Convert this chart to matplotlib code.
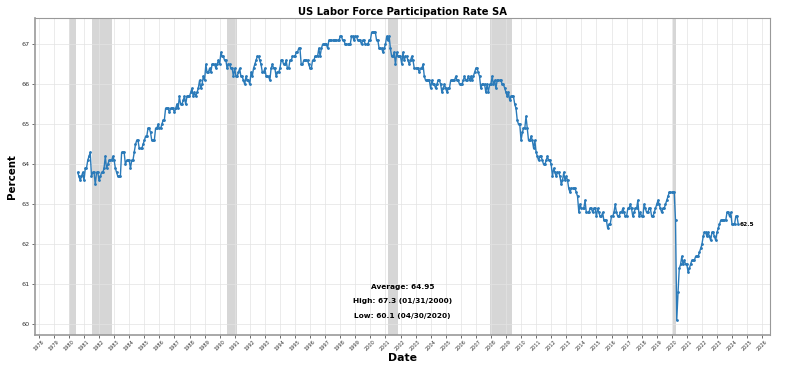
import pandas as pd
import matplotlib
matplotlib.use('Agg')
from matplotlib import pyplot as plt
import matplotlib.dates as mdates

# monthly participation rate (%), month-end dates starting Jul 1980
first_month = '1980-07-31'

lfpr_1980s = [63.8, 63.7, 63.6, 63.7, 63.8, 63.6,
              63.9, 63.9, 64.1, 64.2, 64.3, 63.7, 63.8, 63.8, 63.5, 63.8, 63.8, 63.6,
              63.7, 63.8, 63.8, 63.9, 64.2, 63.9, 64.0, 64.1, 64.1, 64.1, 64.2, 64.1,
              63.9, 63.8, 63.7, 63.7, 63.7, 64.3, 64.3, 64.3, 64.0, 64.1, 64.1, 64.1,
              63.9, 64.1, 64.1, 64.3, 64.5, 64.6, 64.6, 64.4, 64.4, 64.4, 64.5, 64.6,
              64.7, 64.7, 64.9, 64.9, 64.8, 64.6, 64.6, 64.6, 64.9, 64.9, 65.0, 64.9,
              64.9, 65.0, 65.1, 65.1, 65.4, 65.4, 65.4, 65.3, 65.4, 65.4, 65.4, 65.3,
              65.4, 65.5, 65.4, 65.7, 65.5, 65.5, 65.6, 65.7, 65.5, 65.7, 65.7, 65.7,
              65.8, 65.9, 65.7, 65.8, 65.7, 65.8, 65.9, 66.1, 65.9, 66.0, 66.2, 66.1,
              66.5, 66.3, 66.3, 66.4, 66.3, 66.5, 66.5, 66.5, 66.4, 66.5, 66.6, 66.5]

lfpr_1990s = [66.8, 66.7, 66.7, 66.6, 66.6, 66.4, 66.5, 66.5, 66.4, 66.4, 66.2, 66.4,
              66.2, 66.2, 66.3, 66.4, 66.2, 66.2, 66.1, 66.0, 66.2, 66.1, 66.1, 66.0,
              66.3, 66.2, 66.4, 66.5, 66.6, 66.7, 66.7, 66.6, 66.5, 66.3, 66.3, 66.4,
              66.2, 66.2, 66.2, 66.1, 66.4, 66.5, 66.4, 66.4, 66.2, 66.3, 66.3, 66.4,
              66.6, 66.6, 66.5, 66.5, 66.6, 66.4, 66.4, 66.6, 66.6, 66.7, 66.7, 66.7,
              66.8, 66.8, 66.9, 66.9, 66.5, 66.5, 66.6, 66.6, 66.6, 66.6, 66.5, 66.4,
              66.4, 66.6, 66.6, 66.7, 66.7, 66.7, 66.9, 66.7, 66.9, 67.0, 67.0, 67.0,
              67.0, 66.9, 67.1, 67.1, 67.1, 67.1, 67.1, 67.1, 67.1, 67.1, 67.1, 67.2,
              67.2, 67.1, 67.1, 67.0, 67.0, 67.0, 67.0, 67.0, 67.2, 67.2, 67.1, 67.2,
              67.2, 67.1, 67.1, 67.1, 67.0, 67.1, 67.1, 67.0, 67.0, 67.0, 67.1, 67.1]

lfpr_2000s = [67.3, 67.3, 67.3, 67.3, 67.1, 67.1, 66.9, 66.9, 66.9, 66.8, 66.9, 67.0,
              67.2, 67.1, 67.2, 66.9, 66.7, 66.7, 66.8, 66.5, 66.8, 66.7, 66.7, 66.7,
              66.5, 66.8, 66.6, 66.7, 66.7, 66.6, 66.5, 66.6, 66.7, 66.6, 66.4, 66.4,
              66.4, 66.4, 66.3, 66.4, 66.4, 66.5, 66.2, 66.1, 66.1, 66.1, 66.1, 65.9,
              66.1, 66.0, 66.0, 65.9, 66.0, 66.1, 66.1, 66.0, 65.8, 65.9, 66.0, 65.9,
              65.8, 65.9, 65.9, 66.1, 66.1, 66.1, 66.1, 66.2, 66.1, 66.1, 66.0, 66.0,
              66.0, 66.1, 66.2, 66.1, 66.1, 66.2, 66.1, 66.2, 66.1, 66.2, 66.3, 66.4,
              66.4, 66.3, 66.2, 65.9, 66.0, 66.0, 66.0, 65.8, 66.0, 65.8, 66.0, 66.0,
              66.2, 66.0, 66.1, 65.9, 66.1, 66.1, 66.1, 66.1, 66.0, 66.0, 65.9, 65.8,
              65.7, 65.8, 65.6, 65.7, 65.7, 65.7, 65.5, 65.4, 65.1, 65.0, 65.0, 64.6]

lfpr_2010s = [64.8, 64.9, 64.9, 65.2, 64.9, 64.6, 64.6, 64.7, 64.6, 64.4, 64.6, 64.3,
              64.2, 64.1, 64.2, 64.2, 64.1, 64.0, 64.0, 64.1, 64.2, 64.1, 64.1, 64.0,
              63.7, 63.9, 63.8, 63.7, 63.8, 63.8, 63.7, 63.5, 63.6, 63.8, 63.6, 63.7,
              63.6, 63.4, 63.3, 63.4, 63.4, 63.4, 63.4, 63.3, 63.2, 62.8, 63.0, 62.9,
              62.9, 62.9, 63.1, 62.8, 62.8, 62.8, 62.9, 62.9, 62.8, 62.9, 62.9, 62.7,
              62.9, 62.8, 62.7, 62.7, 62.8, 62.6, 62.6, 62.6, 62.4, 62.5, 62.5, 62.7,
              62.7, 62.8, 63.0, 62.8, 62.7, 62.7, 62.8, 62.8, 62.9, 62.8, 62.7, 62.7,
              62.9, 62.9, 63.0, 62.9, 62.7, 62.8, 62.9, 62.9, 63.1, 62.7, 62.8, 62.7,
              62.7, 63.0, 62.9, 62.8, 62.8, 62.9, 62.9, 62.7, 62.7, 62.8, 62.9, 63.0,
              63.1, 63.0, 62.9, 62.8, 62.9, 62.9, 63.0, 63.1, 63.2, 63.3, 63.3, 63.3]

lfpr_2020s = [63.3, 63.3, 62.6, 60.1, 60.8, 61.4, 61.5, 61.7, 61.5, 61.6, 61.5, 61.5,
              61.3, 61.4, 61.5, 61.6, 61.6, 61.6, 61.7, 61.7, 61.7, 61.8, 61.9, 62.0,
              62.2, 62.3, 62.3, 62.2, 62.3, 62.2, 62.1, 62.3, 62.3, 62.2, 62.1, 62.3,
              62.4, 62.5, 62.6, 62.6, 62.6, 62.6, 62.6, 62.8, 62.8, 62.7, 62.8, 62.5,
              62.5, 62.5, 62.7, 62.7, 62.5]

average_rate = 64.95

recession_starts = ['1980-01-01', '1981-07-01', '1990-07-01', '2001-03-01', '2007-12-01', '2020-02-01']
recession_ends = ['1980-07-01', '1982-11-01', '1991-03-01', '2001-11-01', '2009-06-01', '2020-04-01']

values = lfpr_1980s + lfpr_1990s + lfpr_2000s + lfpr_2010s + lfpr_2020s
series = pd.Series(values, index=pd.date_range(first_month, periods=len(values), freq='ME'))

high_date = series.idxmax()
low_date = series.idxmin()

fig, ax = plt.subplots(figsize=(8, 3.75), dpi=100)
fig.subplots_adjust(left=0.044, right=0.9625, top=0.952, bottom=0.107)

for s, e in zip(recession_starts, recession_ends):
    ax.axvspan(pd.Timestamp(s), pd.Timestamp(e), color='#d6d6d6', zorder=1, lw=0)

ax.plot(series.index, series.values, color='#2a7ab9', lw=1, marker='.', ms=2, zorder=3)

ax.xaxis.set_major_locator(mdates.YearLocator())
ax.xaxis.set_major_formatter(mdates.DateFormatter('%Y'))
plt.setp(ax.get_xticklabels(), rotation=45, fontsize=3.6)
ax.tick_params(axis='y', labelsize=4.6, length=2, width=0.5, pad=2, colors='#333333')
ax.tick_params(axis='x', length=2, width=0.5, pad=1, colors='#333333')
ax.set_xlim(pd.Timestamp('1977-10-05'), pd.Timestamp('2026-07-08'))

ax.grid(True, color='#e3e3e3', lw=0.5, zorder=0)
for sp in ax.spines.values():
    sp.set_color('#999999')
    sp.set_linewidth(0.8)
ax.spines['left'].set_linewidth(1.2)
ax.spines['bottom'].set_linewidth(1.2)

ax.set_title('US Labor Force Participation Rate SA', fontsize=7.2, fontweight='bold', pad=2)
ax.set_ylabel('Percent', fontsize=7.4, fontweight='bold', labelpad=3)
ax.set_xlabel('Date', fontsize=7.8, fontweight='bold', labelpad=1)

ax.text(0.5, 0.151, f'Average: {average_rate:.2f}', transform=ax.transAxes,
        ha='center', va='center', fontsize=5.3, fontweight='bold')
ax.text(0.5, 0.106, f'High: {series.max():.1f} ({high_date:%m/%d/%Y})', transform=ax.transAxes,
        ha='center', va='center', fontsize=5.3, fontweight='bold')
ax.text(0.5, 0.06, f'Low: {series.min():.1f} ({low_date:%m/%d/%Y})', transform=ax.transAxes,
        ha='center', va='center', fontsize=5.3, fontweight='bold')

ax.text(series.index[-1] + pd.Timedelta(days=25), series.iloc[-1], f'{series.iloc[-1]:.1f}',
        fontsize=4.2, fontweight='bold', va='center')

fig.savefig('out.png', dpi=100)
